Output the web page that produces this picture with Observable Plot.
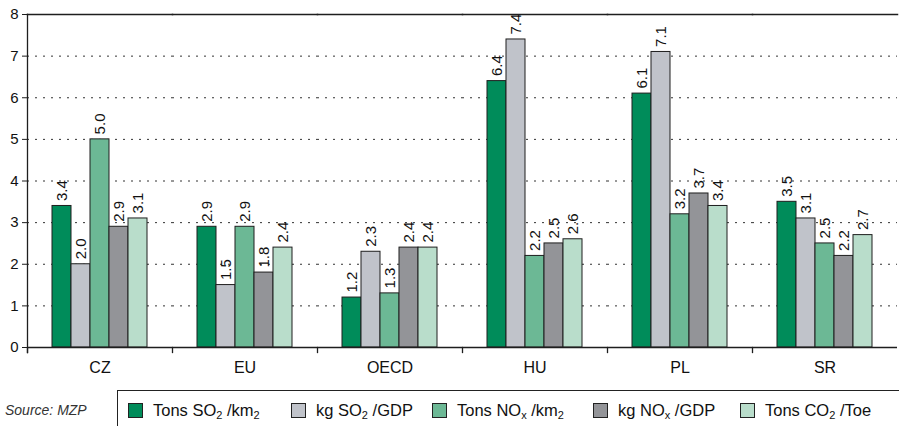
<!DOCTYPE html>
<html>
<head>
<meta charset="utf-8">
<script src="https://cdn.jsdelivr.net/npm/d3@7"></script>
<script src="https://cdn.jsdelivr.net/npm/@observablehq/plot@0.6"></script>
<style>
  html, body { margin: 0; padding: 0; background: #fff; }
  body { font-family: "Liberation Sans", Arial, Helvetica, sans-serif; color: #111; }
  #wrap { position: relative; width: 899px; height: 426px; overflow: hidden; }
  #foot { position: relative; width: 899px; height: 41px; }
  #source { position: absolute; left: 5px; top: 17px; font-size: 14px; font-style: italic; color: #333; }
  #legend {
    position: absolute; left: 117px; top: 5px; width: 782px; height: 60px;
    border-top: 1.5px solid #222; border-left: 1.5px solid #222; box-sizing: border-box;
  }
  .item { position: absolute; top: 10px; display: flex; align-items: center; font-size: 16.5px; white-space: nowrap; }
  .swatch { width: 13px; height: 13px; border: 1.2px solid #222; margin-right: 10px; flex: none; }
  .item sub { font-size: 11px; vertical-align: -3px; line-height: 0; }
</style>
</head>
<body>
<div id="wrap">
  <div id="chart"></div>
  <div id="foot">
    <div id="source">Source: MZP</div>
    <div id="legend"></div>
  </div>
</div>
<script>
// Countries / groupings along the x axis
const countries = ["CZ", "EU", "OECD", "HU", "PL", "SR"];

// Indicator series (one bar per country in each)
const seriesKeys = ["so2Area", "so2Gdp", "noxArea", "noxGdp", "co2Toe"];
const seriesLabels = [
  "Tons SO<sub>2</sub> /km<sub>2</sub>",
  "kg SO<sub>2</sub> /GDP",
  "Tons NO<sub>x</sub> /km<sub>2</sub>",
  "kg NO<sub>x</sub> /GDP",
  "Tons CO<sub>2</sub> /Toe"
];
const seriesColors = ["#008c5a", "#c0c3ca", "#6cb895", "#939498", "#b9ddcb"];

// Values per series, in the order of `countries`
const so2PerKm2 = [3.4, 2.9, 1.2, 6.4, 6.1, 3.5];
const so2PerGdp = [2.0, 1.5, 2.3, 7.4, 7.1, 3.1];
const noxPerKm2 = [5.0, 2.9, 1.3, 2.2, 3.2, 2.5];
const noxPerGdp = [2.9, 1.8, 2.4, 2.5, 3.7, 2.2];
const co2PerToe = [3.1, 2.4, 2.4, 2.6, 3.4, 2.7];

// Axis ticks
const yTicks = [0, 1, 2, 3, 4, 5, 6, 7, 8];
const gridTicks = [1, 2, 3, 4, 5, 6, 7];

// Legend horizontal positions of each entry
const legendLeft = [10, 173, 314, 475, 622];

const seriesValues = [so2PerKm2, so2PerGdp, noxPerKm2, noxPerGdp, co2PerToe];
const rows = [];
countries.forEach((country, ci) => {
  seriesKeys.forEach((key, si) => {
    rows.push({country, series: key, value: seriesValues[si][ci]});
  });
});

const ink = "#1e1e1e";

const chart = Plot.plot({
  width: 899,
  height: 385,
  marginLeft: 25,
  marginRight: 0,
  marginTop: 14,
  marginBottom: 38,
  style: {fontFamily: "'Liberation Sans', Arial, Helvetica, sans-serif", color: "#111", background: "transparent"},
  fx: {domain: countries, padding: 0, label: null},
  x: {domain: seriesKeys, paddingInner: 0, paddingOuter: 1.3, axis: null},
  y: {domain: [0, 8], axis: null, label: null},
  color: {domain: seriesKeys, range: seriesColors},
  marks: [
    Plot.gridY(gridTicks, {stroke: "#333", strokeOpacity: 1, strokeWidth: 1, strokeDasharray: "2,6"}),
    Plot.barY(rows, {fx: "country", x: "series", y: "value", fill: "series", stroke: ink, strokeWidth: 1}),
    Plot.text(rows, {
      fx: "country", x: "series", y: "value",
      text: d => d.value.toFixed(1),
      rotate: -90, textAnchor: "start", lineAnchor: "middle",
      dy: -5, fontSize: 15, fill: "#111"
    }),
    Plot.ruleY([0], {stroke: ink, strokeWidth: 1.5}),
    Plot.frame({anchor: "top", stroke: ink, strokeWidth: 1.5}),
    Plot.frame({anchor: "left", facetAnchor: "left", insetBottom: -5, stroke: ink, strokeWidth: 1.3}),
    Plot.frame({anchor: "left", insetTop: 333, insetBottom: -5, stroke: ink, strokeWidth: 1.3}),
    Plot.axisY(yTicks, {tickSize: 5, tickPadding: 4, fontSize: 15, stroke: ink, label: null}),
    Plot.axisFx({anchor: "bottom", tickSize: 0, tickPadding: 14, fontSize: 16, label: null})
  ]
});
document.getElementById("chart").appendChild(chart);

// Legend built from the same series definitions
const legend = document.getElementById("legend");
seriesKeys.forEach((key, i) => {
  const item = document.createElement("div");
  item.className = "item";
  item.style.left = legendLeft[i] + "px";
  item.innerHTML = `<span class="swatch" style="background:${seriesColors[i]}"></span><span>${seriesLabels[i]}</span>`;
  legend.appendChild(item);
});
</script>
</body>
</html>
